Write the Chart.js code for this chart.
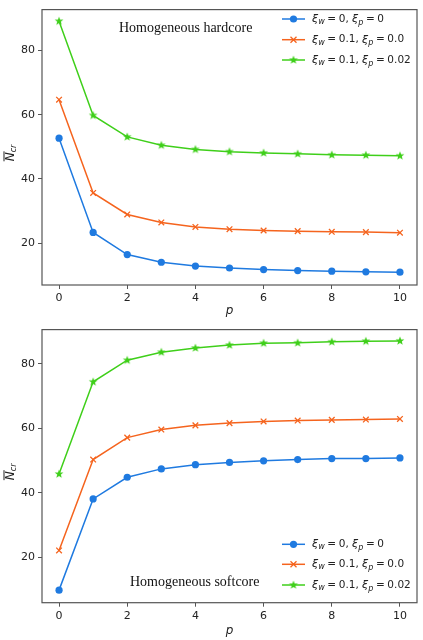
<!DOCTYPE html>
<html>
<head>
<meta charset="utf-8">
<script src="https://cdn.jsdelivr.net/npm/chart.js@4.4.0/dist/chart.umd.min.js"></script>
<style>
  body { margin: 0; background: #fff; }
  canvas { display: block; }
</style>
</head>
<body>
<canvas id="hard" width="423" height="320"></canvas>
<canvas id="soft" width="423" height="320"></canvas>
<script>
// ---- data ----
const pTicks = [0, 2, 4, 6, 8, 10];
const nTicks = [20, 40, 60, 80];
const pVals = [0, 1, 2, 3, 4, 5, 6, 7, 8, 9, 10];

// legend parameters (xi_w, xi_p)
const xiW = ['0', '0.1', '0.1'];
const xiP = ['0', '0.0', '0.02'];

// homogeneous hardcore
const hardA = [52.7, 23.3, 16.4, 14.0, 12.8, 12.2, 11.7, 11.4, 11.2, 11.0, 10.9];
const hardB = [64.7, 35.6, 28.9, 26.4, 25.0, 24.3, 23.9, 23.7, 23.5, 23.4, 23.2];
const hardC = [89.2, 59.8, 53.1, 50.5, 49.2, 48.5, 48.1, 47.8, 47.5, 47.4, 47.2];

// homogeneous softcore
const softA = [9.8, 38.1, 44.8, 47.4, 48.7, 49.4, 49.9, 50.3, 50.6, 50.6, 50.8];
const softB = [22.1, 50.3, 57.1, 59.6, 60.9, 61.6, 62.1, 62.4, 62.6, 62.7, 62.9];
const softC = [45.8, 74.4, 81.1, 83.6, 84.9, 85.8, 86.4, 86.5, 86.8, 87.0, 87.1];

const colors = ['#1f7ae0', '#f5641e', '#3fcf1a'];

// filled five-point star, like matplotlib's '*'
function starImage(color, r) {
  const size = Math.ceil(r * 2) + 2;
  const c = document.createElement('canvas');
  c.width = size; c.height = size;
  const g = c.getContext('2d');
  g.fillStyle = color;
  g.beginPath();
  for (let i = 0; i < 10; i++) {
    const rad = i % 2 === 0 ? r : r * 0.42;
    const a = -Math.PI / 2 + i * Math.PI / 5;
    const px = size / 2 + rad * Math.cos(a);
    const py = size / 2 + rad * Math.sin(a);
    i === 0 ? g.moveTo(px, py) : g.lineTo(px, py);
  }
  g.closePath();
  g.fill();
  return c;
}
const star = starImage(colors[2], 4.6);

function pts(arr) {
  return arr.map((v, i) => ({ x: pVals[i], y: v }));
}

function makeSets(a, b, c) {
  return [
    { label: `ξw = ${xiW[0]}, ξp = ${xiP[0]}`, data: pts(a), borderColor: colors[0], backgroundColor: colors[0],
      pointStyle: 'circle', pointRadius: 3.6, pointBorderWidth: 0 },
    { label: `ξw = ${xiW[1]}, ξp = ${xiP[1]}`, data: pts(b), borderColor: colors[1], backgroundColor: colors[1],
      pointStyle: 'crossRot', pointRadius: 4, pointBorderWidth: 1.3 },
    { label: `ξw = ${xiW[2]}, ξp = ${xiP[2]}`, data: pts(c), borderColor: colors[2], backgroundColor: colors[2],
      pointStyle: star, pointRadius: 5 }
  ];
}

// draws xi_w = .., xi_p = .. with subscripts
function drawMath(ctx, x, y, w, p) {
  const eq = '\u2005=\u2005';
  const segs = [
    ['ξ', 'italic 11px "DejaVu Sans"', 0],
    ['w', 'italic 8px "DejaVu Sans"', 3],
    [eq + w + ', ', '10.5px "DejaVu Sans"', 0],
    ['ξ', 'italic 11px "DejaVu Sans"', 0],
    ['p', 'italic 8px "DejaVu Sans"', 3.5],
    [eq + p, '10.5px "DejaVu Sans"', 0]
  ];
  ctx.textBaseline = 'middle';
  ctx.textAlign = 'left';
  ctx.fillStyle = '#222';
  for (const [t, f, dy] of segs) {
    ctx.font = f;
    ctx.fillText(t, x, y + dy);
    x += ctx.measureText(t).width;
  }
}

const figPlugin = {
  id: 'fig',
  afterDraw(chart, args, opts) {
    const ctx = chart.ctx;
    const a = chart.chartArea;
    ctx.save();
    // frame on all four sides
    ctx.strokeStyle = '#555';
    ctx.lineWidth = 1.2;
    ctx.strokeRect(a.left, a.top, a.right - a.left, a.bottom - a.top);

    // y axis title: N-bar with subscript cr
    ctx.translate(11, (a.top + a.bottom) / 2 + 4);
    ctx.rotate(-Math.PI / 2);
    ctx.fillStyle = '#222';
    ctx.textBaseline = 'middle';
    ctx.textAlign = 'left';
    ctx.font = 'italic 12px "DejaVu Sans"';
    const nw = ctx.measureText('N').width;
    ctx.fillText('N', -10, 0);
    ctx.fillRect(-10, -7.5, nw + 1, 1);
    ctx.font = 'italic 8px "DejaVu Sans"';
    ctx.fillText('cr', -10 + nw, 3);
    ctx.restore();

    // annotation
    ctx.save();
    ctx.font = '14px "Liberation Serif"';
    ctx.fillStyle = '#111';
    ctx.textBaseline = 'alphabetic';
    ctx.fillText(opts.note, opts.noteX, opts.noteY);
    ctx.restore();

    // legend
    ctx.save();
    const sets = chart.data.datasets;
    const x0 = a.right - 135;
    const rowY = opts.legendRows;
    sets.forEach((ds, i) => {
      const y = rowY[i];
      ctx.strokeStyle = ds.borderColor;
      ctx.lineWidth = 1.5;
      ctx.beginPath();
      ctx.moveTo(x0, y);
      ctx.lineTo(x0 + 23, y);
      ctx.stroke();
      const cx = x0 + 11.5;
      if (i === 0) {
        ctx.fillStyle = ds.backgroundColor;
        ctx.beginPath();
        ctx.arc(cx, y, 3.6, 0, Math.PI * 2);
        ctx.fill();
      } else if (i === 1) {
        ctx.lineWidth = 1.3;
        ctx.beginPath();
        ctx.moveTo(cx - 3, y - 3); ctx.lineTo(cx + 3, y + 3);
        ctx.moveTo(cx + 3, y - 3); ctx.lineTo(cx - 3, y + 3);
        ctx.stroke();
      } else {
        ctx.drawImage(star, cx - star.width / 2, y - star.height / 2);
      }
      drawMath(ctx, x0 + 30, y, xiW[i], xiP[i]);
    });
    ctx.restore();
  }
};

function makeChart(id, sets, cfg) {
  new Chart(document.getElementById(id), {
    type: 'line',
    data: { datasets: sets },
    plugins: [figPlugin],
    options: {
      responsive: false,
      animation: false,
      layout: { padding: { top: cfg.top, right: cfg.right, left: 0, bottom: 0 } },
      elements: { line: { borderWidth: 1.5, tension: 0 } },
      plugins: {
        legend: { display: false },
        tooltip: { enabled: false },
        fig: { note: cfg.note, noteX: cfg.noteX, noteY: cfg.noteY, legendRows: cfg.rows }
      },
      scales: {
        x: {
          type: 'linear',
          min: -0.5,
          max: 10.5,
          afterBuildTicks: s => { s.ticks = pTicks.map(v => ({ value: v })); },
          afterFit: s => { s.height = cfg.xh; },
          grid: { drawOnChartArea: false, drawTicks: true, tickLength: 4, color: '#555' },
          border: { display: false },
          ticks: { color: '#222', padding: 3, maxRotation: 0, font: { family: 'DejaVu Sans', size: 11 } },
          title: { display: true, text: 'p', color: '#222', padding: { top: 0, bottom: 2 },
                   font: { family: 'DejaVu Sans', size: 12, style: 'italic' } }
        },
        y: {
          min: cfg.ymin,
          max: cfg.ymax,
          afterBuildTicks: s => { s.ticks = nTicks.map(v => ({ value: v })); },
          afterFit: s => { s.width = 42; },
          grid: { drawOnChartArea: false, drawTicks: true, tickLength: 4, color: '#555' },
          border: { display: false },
          ticks: { color: '#222', padding: 3, font: { family: 'DejaVu Sans', size: 11 } }
        }
      }
    }
  });
}

makeChart('hard', makeSets(hardA, hardB, hardC), {
  top: 5, right: 5, xh: 35, ymin: 6.9, ymax: 92.8,
  note: 'Homogeneous hardcore', noteX: 119, noteY: 32,
  rows: [19, 39.7, 60]
});

makeChart('soft', makeSets(softA, softB, softC), {
  top: 3.3, right: 4, xh: 37.3, ymin: 5.9, ymax: 90.6,
  note: 'Homogeneous softcore', noteX: 130, noteY: 265.7,
  rows: [224.3, 244.3, 265]
});
</script>
</body>
</html>
